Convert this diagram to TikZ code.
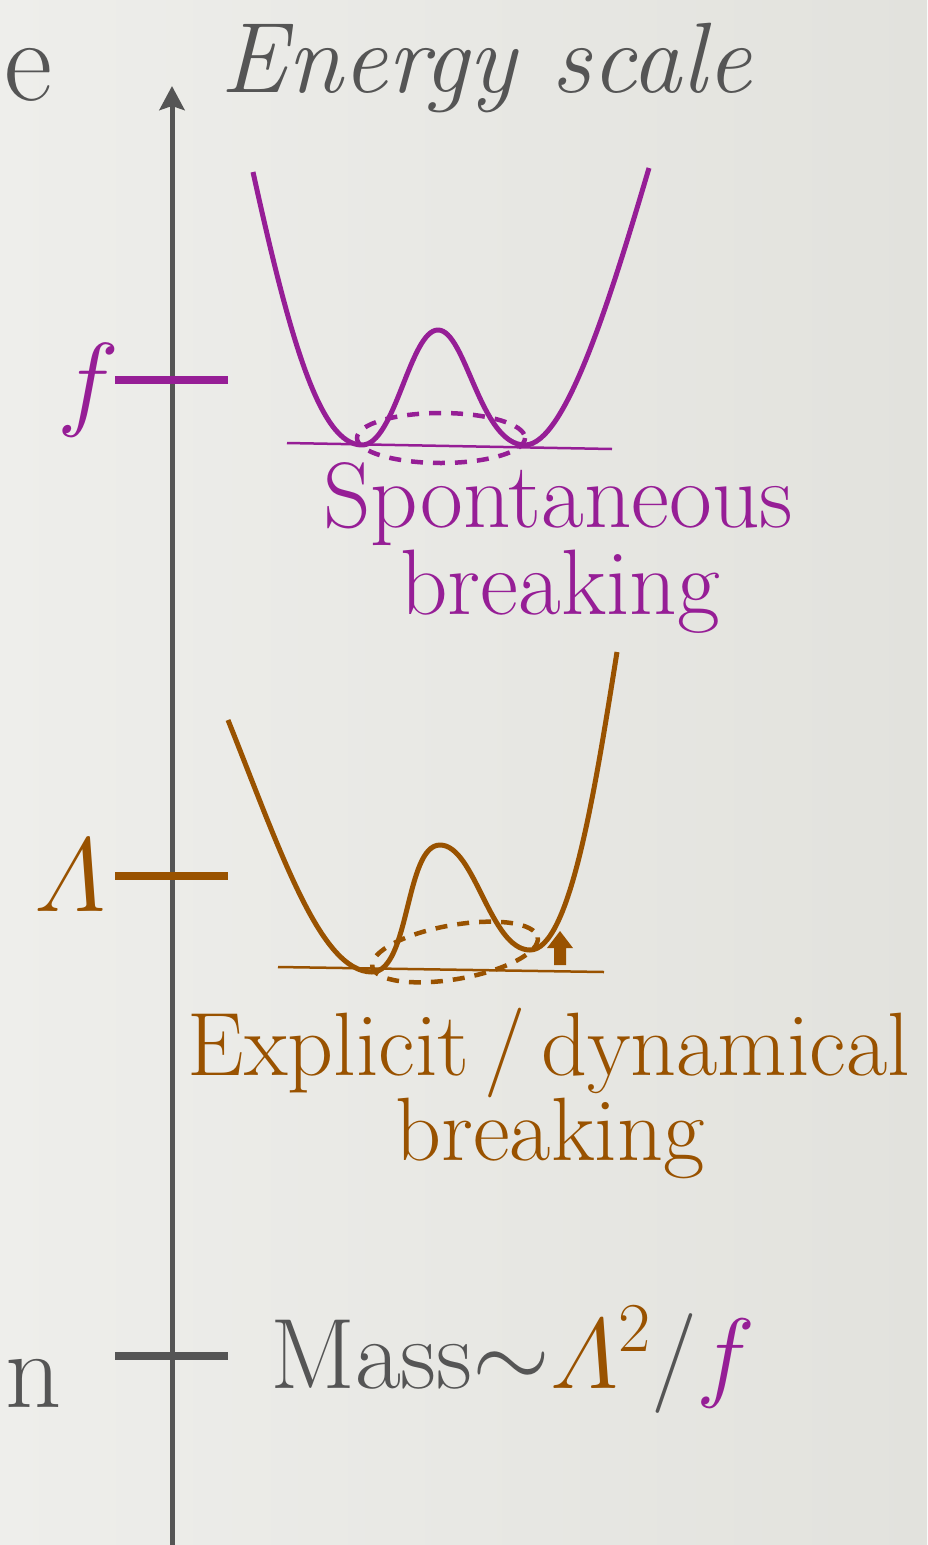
\RequirePackage{fix-cm}
\documentclass[tikz,border=0pt]{standalone}
\usepackage{amsmath}
\usetikzlibrary{arrows.meta}
\definecolor{bgA}{RGB}{238,238,235}
\definecolor{bgB}{RGB}{226,226,221}
\definecolor{ink}{RGB}{85,85,85}
\definecolor{purp}{RGB}{150,30,150}
\definecolor{brn}{RGB}{153,82,0}
\tikzset{
  lbl/.style={inner sep=0pt, outer sep=0pt},
  tickline/.style={line width=8pt},
  pot/.style={line width=5pt, line join=round},
  base/.style={line width=2.5pt},
  dashell/.style={line width=4.5pt, dash pattern=on 12pt off 10pt},
}
\begin{document}
\begin{tikzpicture}[x=1pt,y=-1pt]
\useasboundingbox (0,0) rectangle (927,1545);
\clip (0,0) rectangle (927,1545);
\shade[left color=bgA, right color=bgB] (0,0) rectangle (927,1545);

% axis
\coordinate (axb) at (172,1545);
\coordinate (axt) at (172,86);
\draw[ink, line width=5pt, -{Stealth[length=24pt,width=25pt,inset=4pt]}] (axb) -- (axt);

% ticks
\coordinate (fL) at (115,380); \coordinate (fR) at (228,380);
\coordinate (lL) at (115,876); \coordinate (lR) at (228,876);
\coordinate (mL) at (115,1356); \coordinate (mR) at (228,1356);
\draw[purp, tickline] (fL) -- (fR);
\draw[brn, tickline] (lL) -- (lR);
\draw[ink, tickline] (mL) -- (mR);

% labels
\node[lbl, text=ink, anchor=base] (title) at (486,92) {\fontsize{100}{110}\selectfont\itshape Energy scale};
\node[lbl, text=ink, anchor=base east] (ecut) at (52,100) {\fontsize{118}{125}\selectfont e};
\node[lbl, text=ink, anchor=base east] (ncut) at (62,1407) {\fontsize{110}{120}\selectfont n};
\node[lbl, text=purp] (flab) at (88,390) {\fontsize{105}{115}\selectfont $f$};
\node[lbl, text=brn] (llab) at (70,876) {\fontsize{105}{115}\selectfont $\varLambda$};
\node[lbl, text=ink, anchor=base west] (mass) at (270,1388) {\fontsize{100}{110}\selectfont Mass$\mathord{\sim}$\textcolor{brn}{$\varLambda^{2}$}/\textcolor{purp}{$f$}};

\node[lbl, text=purp, anchor=base] (spon) at (558,527) {\fontsize{93}{103}\selectfont Spontaneous};
\node[lbl, text=purp, anchor=base] (sbrk) at (560,614) {\fontsize{93}{103}\selectfont breaking};
\node[lbl, text=brn, anchor=base] (expl) at (549,1075) {\fontsize{90}{100}\selectfont Explicit\,/\,dynamical};
\node[lbl, text=brn, anchor=base] (ebrk) at (550,1160) {\fontsize{90}{100}\selectfont breaking};

% upper potential (purple)
\draw[purp, base] (287,443) -- (612,449);
\draw[purp, dashell] (441,438) ellipse [x radius=84, y radius=25];
\draw[purp, pot] (253,172) .. controls (290,340) and (320,445) .. (362,445)
  .. controls (395,445) and (410,330) .. (438,330)
  .. controls (466,330) and (480,445) .. (525,445)
  .. controls (565,445) and (610,300) .. (649,168);

% lower potential (brown)
\draw[brn, base] (278,967) -- (604,972);
\draw[brn, dashell, rotate around={10:(455,952)}] (455,952) ellipse [x radius=84, y radius=27];
\draw[brn, pot] (228,720) .. controls (280,850) and (320,972) .. (372,972)
  .. controls (410,972) and (405,845) .. (440,845)
  .. controls (475,845) and (490,950) .. (530,950)
  .. controls (570,950) and (595,790) .. (617,652);
\fill[brn] (547,948) -- (560,931) -- (573,948) -- (566,948) -- (566,965) -- (554,965) -- (554,948) -- cycle;
\end{tikzpicture}
\end{document}
